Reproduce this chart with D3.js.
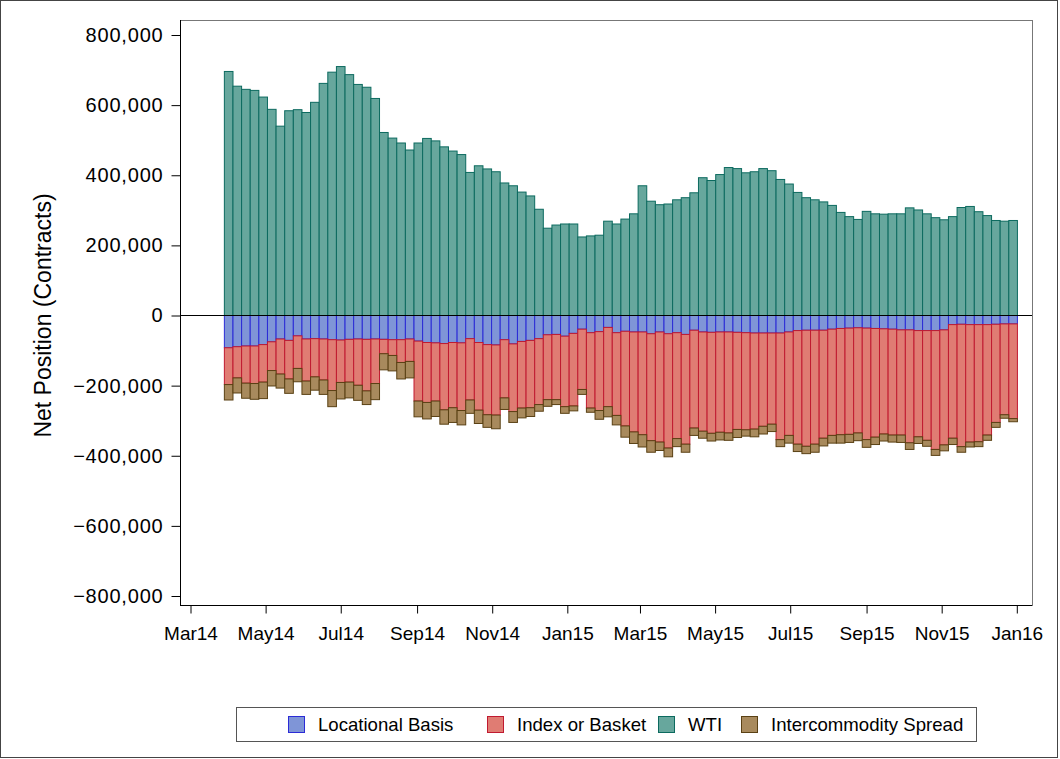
<!DOCTYPE html>
<html><head><meta charset="utf-8">
<script src="https://cdn.jsdelivr.net/npm/d3@7"></script>
<style>body{margin:0;background:#fff} svg{display:block}</style>
</head><body>
<svg id="chart" width="1060" height="759"></svg>
<script>
// Weekly report dates (Tuesdays), Apr 1 2014 .. Dec 29 2015
const reportDates = d3.timeTuesday.range(new Date(2014, 3, 1), new Date(2015, 11, 30));

const seriesNames = ["Locational Basis", "Index or Basket", "WTI", "Intercommodity Spread"];

const wti = [696000,654000,645000,642000,623000,588000,540000,584000,587000,579000,
  608000,662000,694000,710000,687000,659000,651000,619000,522000,506000,
  492000,472000,492000,505000,498000,481000,469000,459000,408000,427000,
  418000,410000,378000,370000,352000,341000,303000,249000,258000,261000,
  261000,224000,227000,229000,269000,261000,275000,290000,370000,326000,
  316000,318000,330000,336000,350000,393000,385000,402000,422000,419000,
  407000,410000,419000,413000,388000,375000,351000,336000,330000,324000,
  314000,294000,282000,274000,297000,290000,289000,290000,290000,307000,
  301000,290000,279000,273000,282000,308000,311000,296000,285000,271000,
  269000,271000];

const locationalBasis = [-92000,-89000,-87000,-87000,-83000,-75000,-67000,-71000,-58000,-67000,
  -66000,-67000,-69000,-70000,-68000,-67000,-68000,-67000,-68000,-69000,
  -69000,-67000,-73000,-77000,-78000,-80000,-77000,-78000,-66000,-77000,
  -83000,-84000,-69000,-81000,-74000,-71000,-66000,-55000,-54000,-59000,
  -51000,-39000,-49000,-46000,-34000,-49000,-45000,-47000,-47000,-52000,
  -47000,-52000,-49000,-54000,-42000,-47000,-48000,-47000,-47000,-48000,
  -49000,-50000,-50000,-50000,-50000,-47000,-43000,-42000,-42000,-42000,
  -39000,-37000,-36000,-35000,-36000,-37000,-38000,-39000,-41000,-41000,
  -43000,-43000,-43000,-41000,-26000,-25000,-26000,-26000,-26000,-25000,
  -24000,-24000];

const indexOrBasket = [-105000,-89000,-106000,-107000,-107000,-82000,-100000,-110000,-93000,-120000,
  -109000,-117000,-145000,-121000,-122000,-132000,-147000,-127000,-41000,-45000,
  -65000,-64000,-171000,-171000,-166000,-189000,-186000,-193000,-175000,-193000,
  -200000,-200000,-166000,-193000,-190000,-192000,-188000,-185000,-186000,-201000,
  -207000,-172000,-215000,-225000,-226000,-236000,-270000,-285000,-293000,-305000,
  -314000,-326000,-302000,-313000,-279000,-283000,-288000,-286000,-288000,-277000,
  -277000,-274000,-266000,-260000,-304000,-295000,-324000,-331000,-325000,-308000,
  -303000,-303000,-303000,-300000,-318000,-310000,-300000,-302000,-300000,-322000,
  -303000,-313000,-339000,-328000,-324000,-349000,-335000,-334000,-315000,-280000,
  -259000,-270000];

const intercommoditySpread = [-44000,-43000,-43000,-45000,-47000,-44000,-40000,-41000,-38000,-38000,
  -38000,-41000,-46000,-47000,-45000,-43000,-39000,-46000,-46000,-44000,
  -47000,-47000,-45000,-47000,-44000,-41000,-42000,-41000,-38000,-38000,
  -36000,-39000,-33000,-31000,-28000,-25000,-19000,-19000,-14000,-19000,
  -14000,-14000,-12000,-25000,-29000,-27000,-32000,-33000,-35000,-33000,
  -24000,-25000,-23000,-23000,-21000,-20000,-22000,-22000,-21000,-23000,
  -18000,-22000,-22000,-21000,-20000,-22000,-21000,-21000,-23000,-22000,
  -22000,-24000,-23000,-22000,-22000,-21000,-20000,-20000,-21000,-19000,
  -19000,-17000,-17000,-17000,-18000,-16000,-14000,-14000,-15000,-14000,
  -10000,-9000];

const yTicks = [800000,600000,400000,200000,0,-200000,-400000,-600000,-800000];
const xTickDates = [new Date(2014,2,1),new Date(2014,4,1),new Date(2014,6,1),new Date(2014,8,1),
  new Date(2014,10,1),new Date(2015,0,1),new Date(2015,2,1),new Date(2015,4,1),
  new Date(2015,6,1),new Date(2015,8,1),new Date(2015,10,1),new Date(2016,0,1)];

const fills = {"Locational Basis":"#7f95d7","Index or Basket":"#e07c73","WTI":"#67a79d","Intercommodity Spread":"#a88a5d"};
const strokes = {"Locational Basis":"#2b2bd6","Index or Basket":"#c01a30","WTI":"#0c6a5f","Intercommodity Spread":"#5a4114"};

const rows = reportDates.map((d,i)=>({date:d,
  "Locational Basis":locationalBasis[i],
  "Index or Basket":indexOrBasket[i],
  "WTI":wti[i],
  "Intercommodity Spread":intercommoditySpread[i]}));

const svg = d3.select("#chart");
const font = "'Liberation Sans', Arial, sans-serif";

// outer border
svg.append("rect").attr("x",0.5).attr("y",0.5).attr("width",1057).attr("height",757)
  .attr("fill","none").attr("stroke","#444").attr("stroke-width",1);

const plot = {left:180, right:1032, top:20, bottom:605};

const x = d3.scaleTime().domain([new Date(2014,2,1), new Date(2016,0,1)]).range([190.5, 1016.8]);
const y = d3.scaleLinear().domain([-800000, 800000]).range([596, 35]);

const stack = d3.stack().keys(seriesNames).offset(d3.stackOffsetDiverging);
const stacked = stack(rows);

const barsG = svg.append("g");
stacked.forEach(layer=>{
  barsG.append("g").selectAll("rect").data(layer).join("rect")
    .attr("x", d=>{const c=x(d.data.date); const w=x(d3.timeDay.offset(d.data.date,7))-c; return c-w/2;})
    .attr("width", d=>x(d3.timeDay.offset(d.data.date,7))-x(d.data.date))
    .attr("y", d=>y(Math.max(d[0],d[1])))
    .attr("height", d=>Math.abs(y(d[0])-y(d[1])))
    .attr("fill", fills[layer.key])
    .attr("stroke", strokes[layer.key])
    .attr("stroke-width", 1);
});

// zero reference line
svg.append("line").attr("x1",plot.left).attr("x2",plot.right).attr("y1",y(0)).attr("y2",y(0))
  .attr("stroke","#000").attr("stroke-width",1.2);

// frame
svg.append("rect").attr("x",plot.left+0.5).attr("y",plot.top+0.5)
  .attr("width",plot.right-plot.left).attr("height",plot.bottom-plot.top)
  .attr("fill","none").attr("stroke","#777").attr("stroke-width",1);

// y axis
const yAxis = d3.axisLeft(y).tickValues(yTicks).tickSize(9).tickPadding(8).tickFormat(d3.format(",.0f"));
const yg = svg.append("g").attr("transform",`translate(${plot.left+0.5},0)`).call(yAxis);
yg.select(".domain").attr("stroke","#000").attr("d",`M0,${plot.top}V${plot.bottom}`);
yg.selectAll("text").attr("font-family",font).attr("font-size",20).attr("letter-spacing","0.8px").attr("fill","#000");
yg.selectAll("line").attr("stroke","#000");

// x axis
const xAxis = d3.axisBottom(x).tickValues(xTickDates).tickSize(8).tickPadding(13).tickFormat(d3.timeFormat("%b%y"));
const xg = svg.append("g").attr("transform",`translate(0,${plot.bottom+0.5})`).call(xAxis);
xg.select(".domain").attr("stroke","#000").attr("d",`M${plot.left},0H${plot.right}`);
xg.selectAll("text").attr("font-family",font).attr("font-size",19).attr("fill","#000");
xg.selectAll("line").attr("stroke","#000");

// y label
svg.append("text").attr("transform",`translate(51,${y(0)}) rotate(-90)`)
  .attr("text-anchor","middle").attr("font-family",font).attr("font-size",23).attr("fill","#000")
  .text("Net Position (Contracts)");

// legend
const legend = svg.append("g");
legend.append("rect").attr("x",236.5).attr("y",707.5).attr("width",740).attr("height",34)
  .attr("fill","none").attr("stroke","#555");
const legendOrder = ["Locational Basis","Index or Basket","WTI","Intercommodity Spread"];
const legendX = [288, 487, 658, 741];
legendOrder.forEach((k,i)=>{
  legend.append("rect").attr("x",legendX[i]+0.5).attr("y",716.5).attr("width",16).attr("height",16)
    .attr("fill",fills[k]).attr("stroke",strokes[k]);
  legend.append("text").attr("x",legendX[i]+30).attr("y",731).attr("font-family",font)
    .attr("font-size",18.6).attr("fill","#000").text(k);
});
</script>
</body></html>
